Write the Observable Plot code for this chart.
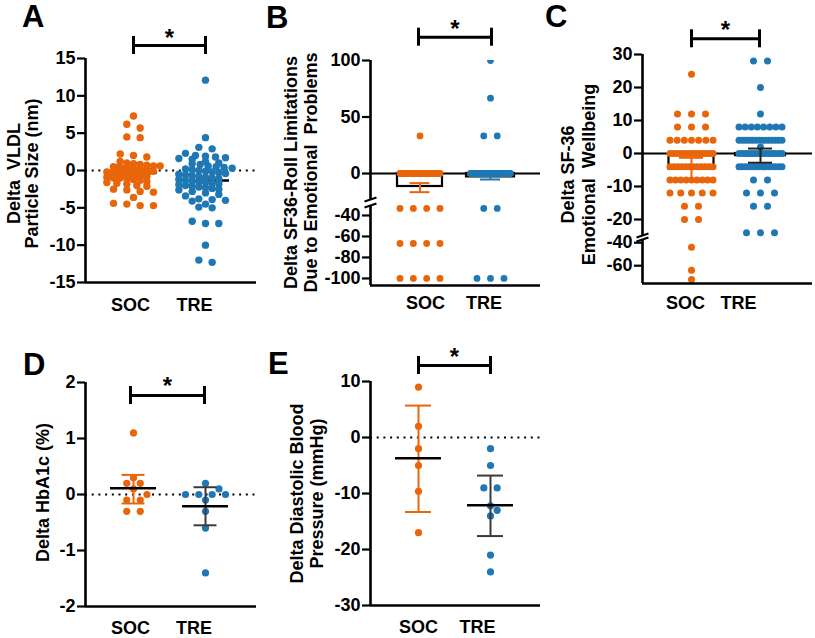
<!DOCTYPE html>
<html><head><meta charset="utf-8">
<script src="https://cdn.jsdelivr.net/npm/d3@7"></script>
<script src="https://cdn.jsdelivr.net/npm/@observablehq/plot@0.6"></script>
<style>
html,body{margin:0;padding:0;background:#fff;}
#fig{position:relative;width:815px;height:638px;overflow:hidden;font-family:"Liberation Sans",Arial,sans-serif;}
#fig svg{position:absolute;}
.letter{position:absolute;font:bold 31px "Liberation Sans",Arial,sans-serif;line-height:1;color:#000;}
</style></head><body><div id="fig"></div>
<script>
// ---------- data ----------
const groups = ["SOC", "TRE"];
const colors = ["#E8650A", "#1F78B4"];

// A: Delta VLDL particle size (nm)
const vldlSOC = [7.3, 6.2, 5.7, 4.5, 4.4, 2.2, 2.0, 1.8, 1.2, 1.0, 0.9, 0.8, 0.7, 0.6, 0.6, 0.5, 0.4, 0.3, 0.3, 0.2, 0.1, 0.1, 0.0, 0.0, -0.1, -0.1, -0.2, -0.3, -0.3, -0.4, -0.5, -0.5, -0.6, -0.7, -0.8, -0.9, -1.0, -1.0, -1.1, -1.2, -1.3, -1.5, -1.6, -1.7, -1.8, -2.0, -2.1, -2.5, -2.6, -2.8, -2.9, -3.6, -4.4, -4.5, -4.7, -4.7];
const vldlTRE = [12.1, 4.4, 3.1, 2.9, 2.3, 2.0, 1.9, 1.8, 1.7, 1.6, 1.5, 1.2, 1.0, 0.9, 0.8, 0.6, 0.5, 0.4, 0.3, 0.2, 0.1, 0.0, -0.1, -0.2, -0.3, -0.4, -0.5, -0.6, -0.7, -0.8, -0.9, -1.0, -1.1, -1.2, -1.3, -1.4, -1.5, -1.6, -1.7, -1.8, -1.9, -2.0, -2.1, -2.2, -2.3, -2.4, -2.5, -2.6, -2.8, -3.0, -3.2, -3.4, -3.8, -3.9, -4.0, -4.1, -4.5, -4.9, -5.0, -6.8, -7.1, -7.1, -10.0, -12.0, -12.3];
const vldlMean = [-0.3, -1.35];
const vldlTicks = [15, 10, 5, 0, -5, -10, -15];

// B: Delta SF36 role limitations due to emotional problems
const rlSOC = [33.3, 0, 0, 0, 0, 0, 0, 0, 0, 0, 0, 0, 0, 0, 0, 0, 0, 0, 0, 0, 0, 0, 0, 0, 0, 0, 0, 0, 0, 0, 0, 0, 0, 0, 0, 0, 0, 0, 0, 0, 0, 0, 0, 0, 0, 0, -33.3, -33.3, -33.3, -33.3, -66.7, -66.7, -66.7, -66.7, -100, -100, -100, -100];
const rlTRE = [100, 66.7, 33.3, 33.3, 0, 0, 0, 0, 0, 0, 0, 0, 0, 0, 0, 0, 0, 0, 0, 0, 0, 0, 0, 0, 0, 0, 0, 0, 0, 0, 0, 0, 0, 0, 0, 0, 0, 0, 0, 0, 0, 0, 0, 0, 0, 0, 0, 0, -33.3, -33.3, -100, -100, -100];
const rlMean = [-11.5, -3.0];
const rlLo = [-16.5, -5.3];
const rlHi = [-8.5, -0.7];
const rlTicksUpper = [100, 50, 0];
const rlTicksLower = [-40, -60, -80, -100];

// C: Delta SF-36 emotional wellbeing
const ewSOC = [24, 12, 12, 12, 8, 8, 8, 4, 4, 4, 4, 4, 4, 4, 0, 0, 0, 0, 0, 0, 0, 0, 0, 0, 0, 0, 0, 0, -4, -4, -4, -4, -4, -4, -4, -4, -4, -4, -4, -4, -8, -8, -8, -8, -8, -8, -8, -8, -8, -12, -12, -12, -12, -12, -16, -16, -20, -20, -44, -64, -72];
const ewTRE = [28, 28, 20, 12, 8, 8, 8, 8, 8, 8, 8, 8, 4, 4, 4, 4, 4, 4, 4, 4, 4, 4, 4, 4, 4, 4, 2, 0, 0, 0, 0, 0, 0, 0, 0, 0, 0, 0, 0, 0, 0, -4, -4, -4, -4, -4, -4, -4, -4, -4, -4, -4, -4, -4, -4, -8, -8, -12, -12, -12, -16, -16, -24, -24, -24];
const ewMean = [-4.8, -0.65];
const ewLo = [-8.3, -2.8];
const ewHi = [-1.3, 1.5];
const ewTicksUpper = [30, 20, 10, 0, -10, -20];
const ewTicksLower = [-40, -60];

// D: Delta HbA1c (%)
const hbaSOC = [1.1, 0.3, 0.2, 0.2, 0.1, 0.0, -0.1, -0.1, -0.3, -0.3];
const hbaTRE = [0.2, 0.1, 0.0, 0.0, 0.0, 0.0, -0.1, -0.3, -0.6, -1.4];
const hbaMean = [0.11, -0.21];
const hbaLo = [-0.16, -0.55];
const hbaHi = [0.35, 0.13];
const hbaTicks = [2, 1, 0, -1, -2];

// E: Delta diastolic blood pressure (mmHg)
const dbpSOC = [9, 2, -2, -5, -9.6, -17];
const dbpTRE = [-2, -5, -9, -9, -12.2, -13, -14, -21, -24];
const dbpMean = [-3.7, -12.1];
const dbpLo = [-13.3, -17.6];
const dbpHi = [5.7, -6.8];
const dbpTicks = [10, 0, -10, -20, -30];

// ---------- helpers ----------
const fig = document.getElementById("fig");
const FONT = '"Liberation Sans", Arial, sans-serif';
const ML = 100, MT = 60, MR = 12, MB = 45;
const errGray = "#3a3a3a";

// Prism-like scatter layout: rows of near-equal values spread symmetrically
function swarm(vals, cx, ys, o) {
  const items = vals.map(v => ({v, py: ys(v)})).sort((a, b) => a.py - b.py);
  const rows = [];
  let cur = null;
  for (const d of items) {
    if (!cur || d.py - cur[0].py > o.rowH) { cur = [d]; rows.push(cur); } else cur.push(d);
  }
  rows.sort((a, b) => b.length - a.length || a[0].py - b[0].py);
  const placed = [];
  const dmin = 2 * o.r * 0.98;
  for (const row of rows) {
    const n = row.length;
    const sp = n > 1 ? Math.min(o.s, o.maxW / (n - 1)) : 0;
    const base = row.map((d, i) => (i - (n - 1) / 2) * sp);
    const half = (n - 1) * sp / 2;
    const cands = [0, o.s / 2, -o.s / 2, o.s, -o.s].filter(sh => half + Math.abs(sh) <= o.maxW / 2 + o.s / 2 + 0.01);
    let best = 0, bestScore = Infinity;
    for (const sh of cands) {
      let score = 0;
      row.forEach((d, i) => {
        for (const p of placed) {
          const dist = Math.hypot(p.x - (base[i] + sh), p.py - d.py);
          if (dist < dmin) score += dmin - dist;
        }
      });
      if (score < bestScore - 1e-6) { bestScore = score; best = sh; }
      if (score === 0) break;
    }
    row.forEach((d, i) => { d.x = cx + base[i] + best; placed.push({x: base[i] + best, py: d.py}); });
  }
  return items;
}

function panel(o) {
  const ys = d3.scaleLinear(o.domain, [o.top + o.h, o.top]);
  const ctx = {ys, inv: px => ys.invert(px)};
  const marks = [
    Plot.axisY({ticks: o.ticks, tickFormat: d => String(d), tickSize: 8, tickPadding: 2, strokeWidth: 2.2, fontSize: 18, fontWeight: "bold", label: null}),
    ...o.marks(ctx),
    Plot.ruleX([0], {stroke: "black", strokeWidth: 2.6})
  ];
  const svg = Plot.plot({
    width: ML + o.w + MR, height: MT + o.h + MB,
    marginLeft: ML, marginTop: MT, marginRight: MR, marginBottom: MB,
    x: {domain: [0, o.w], axis: null},
    y: {domain: o.domain},
    style: {background: "transparent", overflow: "visible", fontFamily: FONT, fontWeight: "bold", fontSize: "18px", color: "black", maxWidth: "none"},
    marks
  });
  svg.style.left = (o.left - ML) + "px";
  svg.style.top = (o.top - MT) + "px";
  fig.append(svg);
}

function dots(ctx, vals, centers, opt) {
  return groups.map((g, i) => Plot.dot(swarm(vals[i], centers[i], ctx.ys, opt), {x: "x", y: "v", r: opt.r, fill: colors[i], stroke: "none", clip: !!opt.clip}));
}
function bracket(ctx, x1, x2, pyBar, pyStar) {
  return [
    Plot.ruleY([ctx.inv(pyBar)], {x1, x2, stroke: "black", strokeWidth: 3}),
    Plot.ruleX([x1, x2], {y1: ctx.inv(pyBar - 9), y2: ctx.inv(pyBar + 9), stroke: "black", strokeWidth: 3}),
    Plot.text(["*"], {x: (x1 + x2) / 2, y: ctx.inv(pyStar + 6), text: d => d, fontSize: 24, fontWeight: "bold", textAnchor: "middle", lineAnchor: "middle"})
  ];
}
function title(t, dx, dy, lh = 1.15) {
  return Plot.text([t], {frameAnchor: "left", rotate: -90, dx, dy, text: d => d, fontSize: 18, fontWeight: "bold", lineHeight: lh, textAnchor: "middle", lineAnchor: "middle"});
}
function catLabels(labelX, dy) {
  return Plot.text(groups, {x: (d, i) => labelX[i], frameAnchor: "bottom", dy, text: d => d, fontSize: 18, fontWeight: "bold", textAnchor: "middle", lineAnchor: "middle"});
}
function summary(mean, lo, hi, centers) {
  return groups.map((g, i) => ({g, i, mean: mean[i], lo: lo ? lo[i] : null, hi: hi ? hi[i] : null, cx: centers[i]}));
}
function errorMarks(rows, capHalf, errColors, sw = 2) {
  return [
    Plot.ruleX(rows, {x: "cx", y1: "lo", y2: "hi", stroke: d => errColors[d.i], strokeWidth: sw}),
    Plot.ruleY(rows, {y: "lo", x1: d => d.cx - capHalf, x2: d => d.cx + capHalf, stroke: d => errColors[d.i], strokeWidth: sw}),
    Plot.ruleY(rows, {y: "hi", x1: d => d.cx - capHalf, x2: d => d.cx + capHalf, stroke: d => errColors[d.i], strokeWidth: sw})
  ];
}
const dotted = {stroke: "black", strokeWidth: 2, strokeDasharray: "2,4.7"};

// ---------- Panel A ----------
{
  const centers = [48, 120];
  panel({
    left: 85, top: 58, w: 171, h: 224, domain: [-15, 15], ticks: vldlTicks,
    marks: ctx => {
      const rows = summary(vldlMean, null, null, centers);
      return [
        Plot.ruleY([0], dotted),
        Plot.ruleY(rows, {y: "mean", x1: d => d.cx - 24, x2: d => d.cx + 24, stroke: "black", strokeWidth: 2.5}),
        ...dots(ctx, [vldlSOC, vldlTRE], centers, {r: 3.7, s: 13.3, maxW: 40, rowH: 5}),
        Plot.ruleY([-15], {stroke: "black", strokeWidth: 2.6}),
        catLabels([45, 109], 23),
        ...bracket(ctx, centers[0], centers[1], 45, 32),
        title("Delta  VLDL\nParticle Size (nm)", -62.5, 3, 1.02)
      ];
    }
  });
}

// ---------- Panel B ----------
{
  const centers = [49.5, 120];
  const rows = summary(rlMean, rlLo, rlHi, centers);
  const barHalf = [22.5, 24];
  const opt = {r: 3.4, s: 13.5, maxW: 40, rowH: 1};
  panel({
    left: 370, top: 60, w: 170, h: 139, domain: [-23, 100], ticks: rlTicksUpper,
    marks: ctx => [
      Plot.ruleY([0], {stroke: "black", strokeWidth: 2.2}),
      Plot.rectY(rows, {x1: d => d.cx - barHalf[d.i], x2: d => d.cx + barHalf[d.i], y1: 0, y2: "mean", fill: "none", stroke: "black", strokeWidth: 2.2}),
      ...dots(ctx, [rlSOC.filter(v => v > -25), rlTRE.filter(v => v > -25)], centers, {...opt, clip: true}),
      ...errorMarks(rows, 10, colors),
      Plot.link([0], {x1: -6, x2: 6, y1: ctx.inv(201), y2: ctx.inv(197), stroke: "black", strokeWidth: 2}),
      ...bracket(ctx, 48, 121, 36.7, 23),
      title("Delta SF36-Roll Limitations\nDue to Emotional  Problems", -70, 42.5)
    ]
  });
  panel({
    left: 370, top: 205, w: 170, h: 80, domain: [-106.7, -30.5], ticks: rlTicksLower,
    marks: ctx => [
      ...dots(ctx, [rlSOC.filter(v => v < -25), rlTRE.filter(v => v < -25)], centers, opt),
      Plot.link([0], {x1: -6, x2: 6, y1: ctx.inv(207), y2: ctx.inv(203), stroke: "black", strokeWidth: 2}),
      Plot.ruleY([-106.7], {stroke: "black", strokeWidth: 2.6}),
      catLabels([55, 113.5], 18)
    ]
  });
}

// ---------- Panel C ----------
{
  const centers = [49, 118];
  const rows = summary(ewMean, ewLo, ewHi, centers);
  const barHalf = [22.5, 25];
  const opt = {r: 3.5, s: 14, maxW: 43, rowH: 1};
  panel({
    left: 642, top: 54, w: 170, h: 181, domain: [-24.85, 30], ticks: ewTicksUpper,
    marks: ctx => [
      Plot.ruleY([0], {stroke: "black", strokeWidth: 2.2}),
      Plot.rectY(rows, {x1: d => d.cx - barHalf[d.i], x2: d => d.cx + barHalf[d.i], y1: 0, y2: "mean", fill: "none", stroke: "black", strokeWidth: 2.2}),
      ...dots(ctx, [ewSOC.filter(v => v > -30), ewTRE.filter(v => v > -30)], centers, opt),
      ...errorMarks(rows, 12, [colors[0], "#222"]),
      Plot.link([0], {x1: -6, x2: 6, y1: ctx.inv(237), y2: ctx.inv(233), stroke: "black", strokeWidth: 2}),
      ...bracket(ctx, 49, 117, 38.3, 24),
      title("Delta SF-36\nEmotional  Wellbeing", -64.5, 29.5)
    ]
  });
  panel({
    left: 642, top: 239, w: 170, h: 44, domain: [-75.5, -37.2], ticks: ewTicksLower,
    marks: ctx => [
      ...dots(ctx, [ewSOC.filter(v => v < -30), ewTRE.filter(v => v < -30)], centers, opt),
      Plot.link([0], {x1: -6, x2: 6, y1: ctx.inv(241), y2: ctx.inv(237), stroke: "black", strokeWidth: 2}),
      Plot.ruleY([-75.5], {stroke: "black", strokeWidth: 2.6}),
      catLabels([43, 96], 20)
    ]
  });
}

// ---------- Panel D ----------
{
  const centers = [48, 120];
  const rows = summary(hbaMean, hbaLo, hbaHi, centers);
  panel({
    left: 85, top: 382, w: 171, h: 224, domain: [-2, 2], ticks: hbaTicks,
    marks: ctx => [
      Plot.ruleY([0], dotted),
      ...dots(ctx, [hbaSOC, hbaTRE], centers, {r: 3.6, s: 13.5, maxW: 40, rowH: 1}),
      ...errorMarks(rows, 11.5, [colors[0], errGray]),
      Plot.ruleY(rows, {y: "mean", x1: d => d.cx - 23, x2: d => d.cx + 23, stroke: "black", strokeWidth: 2.5}),
      Plot.ruleY([-2], {stroke: "black", strokeWidth: 2.6}),
      catLabels([45, 108.5], 22),
      ...bracket(ctx, 45, 119, 395, 380),
      title("Delta HbA1c (%)", -43, -2)
    ]
  });
}

// ---------- Panel E ----------
{
  const centers = [48, 120];
  const rows = summary(dbpMean, dbpLo, dbpHi, centers);
  panel({
    left: 370, top: 381, w: 170, h: 224, domain: [-30, 10], ticks: dbpTicks,
    marks: ctx => [
      Plot.ruleY([0], dotted),
      ...dots(ctx, [dbpSOC, dbpTRE], centers, {r: 3.6, s: 13.3, maxW: 40, rowH: 1}),
      ...errorMarks(rows, 13, [colors[0], errGray]),
      Plot.ruleY(rows, {y: "mean", x1: d => d.cx - 23, x2: d => d.cx + 23, stroke: "black", strokeWidth: 2.5}),
      Plot.ruleY([-30], {stroke: "black", strokeWidth: 2.6}),
      catLabels([48, 107], 22),
      ...bracket(ctx, 48, 120, 365, 351),
      title("Delta Diastolic Blood\nPressure (mmHg)", -64, 0)
    ]
  });
}

// ---------- panel letters ----------
[["A", 22, 1], ["B", 266, 2], ["C", 545, 1], ["D", 23, 349], ["E", 268, 348]].forEach(([t, x, y]) => {
  const el = document.createElement("div");
  el.className = "letter";
  el.textContent = t;
  el.style.left = x + "px";
  el.style.top = y + "px";
  fig.append(el);
});
</script>
</body></html>
